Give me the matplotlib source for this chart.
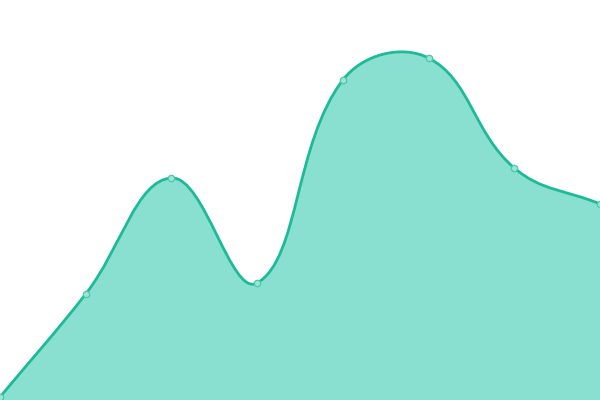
import numpy as np
import matplotlib
matplotlib.use("Agg")
import matplotlib.pyplot as plt
from matplotlib.path import Path
from matplotlib.patches import PathPatch

labels = ["1", "2", "3", "4", "5", "6", "7", "8"]
values = [3, 106, 222, 117, 320, 342, 232, 196]

LINE = "#1dba97"
FILL = "#8ae0d0"
TENSION = 0.4

fig = plt.figure(figsize=(6, 4), dpi=100)
ax = fig.add_axes([0, 0, 1, 1])
ax.set_xlim(0, len(values) - 1)
ax.set_ylim(0, 400)
ax.axis("off")

xs = np.arange(len(values), dtype=float)
pts = ax.transData.transform(np.column_stack([xs, values]))

# Chart.js style spline control points (display space)
n = len(pts)
verts = [pts[0]]
codes = [Path.MOVETO]
ctrl_prev = []
ctrl_next = []
for i in range(n):
    p0 = pts[max(i - 1, 0)]
    p1 = pts[i]
    p2 = pts[min(i + 1, n - 1)]
    d01 = np.hypot(*(p1 - p0))
    d12 = np.hypot(*(p2 - p1))
    tot = d01 + d12
    s01 = d01 / tot if tot else 0
    s12 = d12 / tot if tot else 0
    fa = TENSION * s01
    fb = TENSION * s12
    ctrl_prev.append(p1 - fa * (p2 - p0))
    ctrl_next.append(p1 + fb * (p2 - p0))
for i in range(1, n):
    verts += [ctrl_next[i - 1], ctrl_prev[i], pts[i]]
    codes += [Path.CURVE4] * 3

inv = ax.transData.inverted()
curve = inv.transform(np.array(verts))

fill_verts = np.vstack([curve, [[xs[-1], 0], [xs[0], 0], curve[0]]])
fill_codes = codes + [Path.LINETO, Path.LINETO, Path.CLOSEPOLY]
ax.add_patch(PathPatch(Path(fill_verts, fill_codes), facecolor=FILL, edgecolor="none"))
ax.add_patch(PathPatch(Path(curve, codes), facecolor="none", edgecolor=LINE, linewidth=2.0))
ax.plot(xs, values, "o", markersize=4.6, markerfacecolor="#9be5d7", markeredgecolor="#4cc7ab",
        markeredgewidth=0.9, clip_on=True)

fig.savefig("out.png", dpi=100)
